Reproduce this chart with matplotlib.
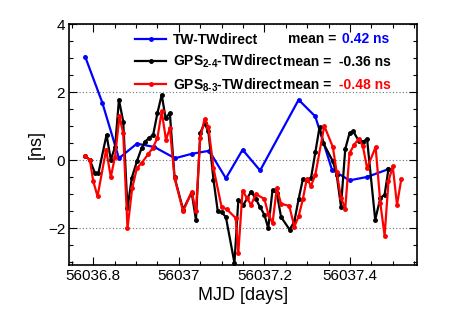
import matplotlib
matplotlib.use("Agg")
import matplotlib.pyplot as plt
from matplotlib.ticker import FixedLocator, FixedFormatter, MultipleLocator

plt.rcParams['font.family'] = 'Liberation Sans'
plt.rcParams['mathtext.fontset'] = 'custom'
plt.rcParams['mathtext.rm'] = 'Liberation Sans:bold'
plt.rcParams['mathtext.bf'] = 'Liberation Sans:bold'

# TW - TWdirect (blue)
tw_mjd = [56036.781, 56036.821, 56036.860, 56036.902, 56036.943, 56036.991, 56037.030,
          56037.071, 56037.110, 56037.149, 56037.190, 56037.280, 56037.319, 56037.358,
          56037.399, 56037.440, 56037.490]
tw_ns = [3.05, 1.70, 0.06, 0.49, 0.39, 0.06, 0.19, 0.28, -0.53, 0.31, -0.30, 1.78, 1.29,
         -0.28, -0.59, -0.49, -0.26]

# GPS 2-4 - TWdirect (black)
gps24_mjd = [56036.781, 56036.792, 56036.804, 56036.812, 56036.831, 56036.841, 56036.851,
             56036.860, 56036.870, 56036.880, 56036.890, 56036.902, 56036.913, 56036.921,
             56036.930, 56036.940, 56036.950, 56036.960, 56036.969, 56036.979, 56036.990,
             56037.010, 56037.030, 56037.040, 56037.050, 56037.060, 56037.069, 56037.081,
             56037.091, 56037.100, 56037.110, 56037.130, 56037.139, 56037.151, 56037.169,
             56037.180, 56037.190, 56037.200, 56037.209, 56037.219, 56037.229, 56037.239,
             56037.259, 56037.270, 56037.280, 56037.290, 56037.299, 56037.309, 56037.319,
             56037.329, 56037.338, 56037.360, 56037.369, 56037.379, 56037.389, 56037.399,
             56037.408, 56037.420, 56037.430, 56037.440, 56037.459, 56037.471, 56037.481,
             56037.490]
gps24_ns = [0.13, 0.01, -0.38, -0.38, 0.75, 0.01, 0.40, 1.78, 1.14, -1.41, -0.52, -0.03,
            0.36, 0.55, 0.65, 0.75, 1.39, 1.93, 1.24, 1.39, -0.50, -1.45, -0.95, -1.75,
            0.80, 1.09, 0.85, -0.57, -1.50, -1.53, -1.67, -3.02, -1.18, -1.31, -0.92,
            -1.14, -1.38, -1.60, -2.00, -0.87, -0.97, -1.67, -2.04, -1.80, -1.14, -0.55,
            -0.57, -0.52, 0.23, 0.98, 0.50, -0.03, -0.43, -1.36, 0.33, 0.80, 0.85, 0.58,
            0.55, 0.62, -1.75, -1.11, -1.01, -0.26]

# GPS 8-3 - TWdirect (red)
gps83_mjd = [56036.781, 56036.792, 56036.800, 56036.810, 56036.830, 56036.841, 56036.851,
             56036.861, 56036.870, 56036.880, 56036.891, 56036.902, 56036.913, 56036.929,
             56036.939, 56036.950, 56036.960, 56036.970, 56036.979, 56036.990, 56037.010,
             56037.030, 56037.040, 56037.050, 56037.060, 56037.069, 56037.081, 56037.100,
             56037.112, 56037.133, 56037.139, 56037.149, 56037.159, 56037.169, 56037.180,
             56037.200, 56037.209, 56037.219, 56037.229, 56037.239, 56037.258, 56037.270,
             56037.280, 56037.290, 56037.299, 56037.309, 56037.319, 56037.340, 56037.360,
             56037.369, 56037.379, 56037.389, 56037.399, 56037.410, 56037.420, 56037.430,
             56037.440, 56037.460, 56037.471, 56037.481, 56037.490, 56037.500, 56037.510,
             56037.520]
gps83_ns = [0.13, 0.01, -0.62, -1.06, 0.31, -0.49, 0.11, 1.29, 0.80, -2.00, -0.82, -0.23,
            -0.08, 0.19, 0.36, 0.66, 1.44, 0.60, 0.95, -0.52, -1.50, -0.92, -1.50, 0.65,
            1.21, 0.99, -0.23, -1.38, -1.44, -1.70, -2.73, -0.89, -1.11, -1.31, -0.99,
            -1.14, -1.57, -1.85, -0.82, -1.28, -1.34, -1.95, -1.65, -1.14, -0.55, -0.75,
            -0.43, 1.01, 0.39, -0.35, -1.10, -1.42, 0.21, 0.46, 0.62, 0.43, -0.23, 0.39,
            -1.26, -2.22, -0.62, -0.18, -1.31, -0.55]

x_ticks = [56036.8, 56037.0, 56037.2, 56037.4]
x_labels = ['56036.8', '56037', '56037.2', '56037.4']
y_ticks = [-2, 0, 2, 4]
y_labels = ['\u22122', '0', '2', '4']

fig = plt.figure(figsize=(4.63, 3.33), dpi=100)
ax = fig.add_axes([0.1497, 0.2042, 0.7503, 0.7228])

ax.plot(tw_mjd, tw_ns, color='#0000ff', marker='o', markersize=2.5, linewidth=1.6,
        label='TW-TWdirect')
ax.plot(gps24_mjd, gps24_ns, color='black', marker='o', markersize=2.5, linewidth=1.6,
        label='GPS$_{2\\text{-}4}$-TWdirect')
ax.plot(gps83_mjd, gps83_ns, color='#ff0000', marker='o', markersize=2.5, linewidth=1.6,
        label='GPS$_{8\\text{-}3}$-TWdirect')

ax.set_xlim(56036.744, 56037.556)
ax.set_ylim(-3.08, 4.0)

ax.xaxis.set_major_locator(FixedLocator(x_ticks))
ax.xaxis.set_major_formatter(FixedFormatter(x_labels))
ax.xaxis.set_minor_locator(MultipleLocator(0.05))
ax.yaxis.set_major_locator(FixedLocator(y_ticks))
ax.yaxis.set_major_formatter(FixedFormatter(y_labels))
ax.yaxis.set_minor_locator(MultipleLocator(0.5))

ax.tick_params(which='both', direction='in', top=True, right=True, width=0.8)
ax.tick_params(which='major', length=6, labelsize=11, pad=3)
ax.tick_params(which='minor', length=3)
for s in ax.spines.values():
    s.set_linewidth(1.2)

ax.yaxis.grid(True, which='major', linestyle=(0, (1, 2)), color='#707070', linewidth=0.8)

ax.set_xlabel('MJD [days]', fontsize=13)
ax.set_ylabel('[ns]', fontsize=13)
ax.xaxis.set_label_coords(0.5, -0.09)
ax.yaxis.set_label_coords(-0.07, 0.5)

leg = ax.legend(loc='upper left', bbox_to_anchor=(0.19, 0.963), frameon=False,
                prop={'family': 'Liberation Sans', 'weight': 'bold', 'size': 10},
                handlelength=2.2, handletextpad=0.5, labelspacing=0.42,
                borderpad=0, borderaxespad=0, numpoints=1)

row_y = [0.9377, 0.8446, 0.7478]
mean_x = [0.6287, 0.616, 0.616]
val_x = [0.784, 0.777, 0.777]
mean_txt = ['0.42 ns', '-0.36 ns', '-0.48 ns']
mean_col = ['#0000ff', 'black', '#ff0000']
for i in range(3):
    ax.text(mean_x[i], row_y[i], 'mean =', transform=ax.transAxes, fontsize=10,
            fontweight='bold', va='center', ha='left')
    ax.text(val_x[i], row_y[i], mean_txt[i], transform=ax.transAxes, fontsize=10,
            fontweight='bold', va='center', ha='left', color=mean_col[i])

fig.savefig('out.png', dpi=100)
